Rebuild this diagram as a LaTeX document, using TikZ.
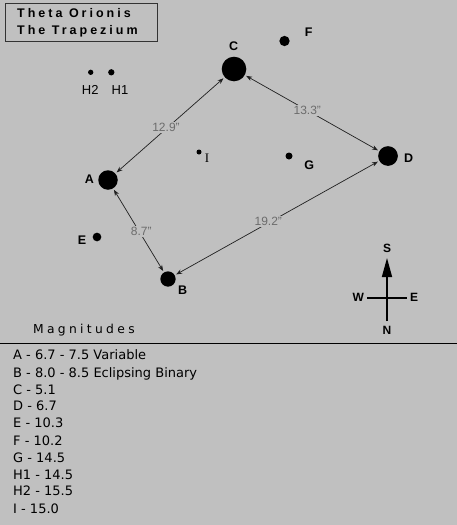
\documentclass[tikz,border=0pt]{standalone}
\usepackage{fontspec}
\setmainfont{Liberation Sans}
\newfontfamily\listfont{DejaVu Sans}
\newfontfamily\serifI{Liberation Serif}
\newfontfamily\titlefont[LetterSpace=24]{Liberation Sans Bold}
\newfontfamily\magfont[LetterSpace=27]{DejaVu Sans}
\usetikzlibrary{arrows.meta}
\definecolor{bg}{HTML}{C0C0C0}
\definecolor{distgray}{HTML}{6C6C6C}
\definecolor{linegray}{HTML}{202020}
\begin{document}
\begin{tikzpicture}[x=1pt,y=-1pt,
  star/.style={circle,fill=black,inner sep=0pt,minimum size=#1},
  starlbl/.style={font=\bfseries\fontsize{12.5}{12.5}\selectfont,inner sep=0pt},
  hlbl/.style={font=\fontsize{13}{13}\selectfont,inner sep=0pt},
  conn/.style={{Stealth[length=6pt,width=4.5pt]}-{Stealth[length=6pt,width=4.5pt]}, draw=linegray, line width=0.7pt, shorten <=1.5pt, shorten >=1.5pt},
  dist/.style={fill=bg, text=distgray, inner sep=1.2pt, font=\fontsize{12}{12}\selectfont},
  compass/.style={line width=1.6pt},
  clbl/.style={font=\bfseries\fontsize{12}{12}\selectfont,inner sep=0pt},
  listitem/.style={anchor=base west, inner sep=0pt, font=\listfont\fontsize{13}{13}\selectfont},
  titletext/.style={anchor=base west, inner sep=0pt, font=\titlefont\fontsize{12.5}{12.5}\selectfont},
]
\fill[bg] (0,0) rectangle (457,525);
\useasboundingbox (0,0) rectangle (457,525);

% title
\draw[draw=black!80, line width=0.9pt] (5,3) rectangle (157,41);
\node[titletext] (t1) at (17,17.3) {Theta Orionis};
\node[titletext] (t2) at (17,34.3) {The Trapezium};

% stars
\node[star=24.6pt] (C) at (234,69) {};
\node[star=10.3pt] (F) at (284.5,41) {};
\node[star=19.7pt] (D) at (388,156) {};
\node[star=7pt] (G) at (289,156) {};
\node[star=5pt] (I) at (199,152) {};
\node[star=19.5pt] (A) at (108,180) {};
\node[star=5.3pt] (H2) at (90.7,72.3) {};
\node[star=6.3pt] (H1) at (111.3,72.3) {};
\node[star=8.7pt] (E) at (97,237) {};
\node[star=15.3pt] (B) at (168,279) {};

% star labels
\node[starlbl] (lC) at (233.7,46) {C};
\node[starlbl] (lF) at (308.7,32.3) {F};
\node[starlbl] (lD) at (408.7,157.7) {D};
\node[starlbl] (lG) at (309.3,165) {G};
\node[starlbl] (lA) at (89.3,179.3) {A};
\node[starlbl] (lE) at (82,240) {E};
\node[starlbl] (lB) at (182.7,290) {B};
\node[hlbl] (lH2) at (90.3,89.7) {H2};
\node[hlbl] (lH1) at (120,89.7) {H1};
\node[inner sep=0pt, font=\serifI\fontsize{13}{13}\selectfont] (lI) at (207,158.7) {I};

% connectors
\draw[conn] (A) -- (C);
\draw[conn] (C) -- (D);
\draw[conn] (D) -- (B);
\draw[conn] (A) -- (B);
\node[dist] (dAC) at (166,127.7) {12.9"};
\node[dist] (dCD) at (307.3,110.7) {13.3"};
\node[dist] (dDB) at (268.3,221.7) {19.2"};
\node[dist] (dAB) at (141.2,231.7) {8.7"};

% compass
\coordinate (cs) at (387,258);
\coordinate (cn) at (387,321);
\coordinate (cw) at (367,298);
\coordinate (ce) at (407,298);
\draw[compass, -{Triangle[length=19pt,width=10pt]}] (cn) -- (cs);
\draw[compass] (cw) -- (ce);
\node[clbl] (S) at (387,248.3) {S};
\node[clbl] (W) at (358.3,297.7) {W};
\node[clbl] (Ea) at (414,297.7) {E};
\node[clbl] (N) at (387,330) {N};

% magnitudes
\node[anchor=base west, inner sep=0pt, font=\magfont\fontsize{12.3}{12.3}\selectfont] (mag) at (33,333.3) {Magnitudes};
\draw[line width=1pt] (0,343) -- (457,343);
\node[listitem] (m1) at (13,359.7) {A - 6.7 - 7.5 Variable};
\node[listitem] (m2) at (13,377) {B - 8.0 - 8.5 Eclipsing Binary};
\node[listitem] (m3) at (13,394) {C - 5.1};
\node[listitem] (m4) at (13,410.4) {D - 6.7};
\node[listitem] (m5) at (13,427) {E - 10.3};
\node[listitem] (m6) at (13,445.7) {F - 10.2};
\node[listitem] (m7) at (13,462.4) {G - 14.5};
\node[listitem] (m8) at (13,479.7) {H1 - 14.5};
\node[listitem] (m9) at (13,495.7) {H2 - 15.5};
\node[listitem] (m10) at (13,513) {I - 15.0};
\end{tikzpicture}
\end{document}
